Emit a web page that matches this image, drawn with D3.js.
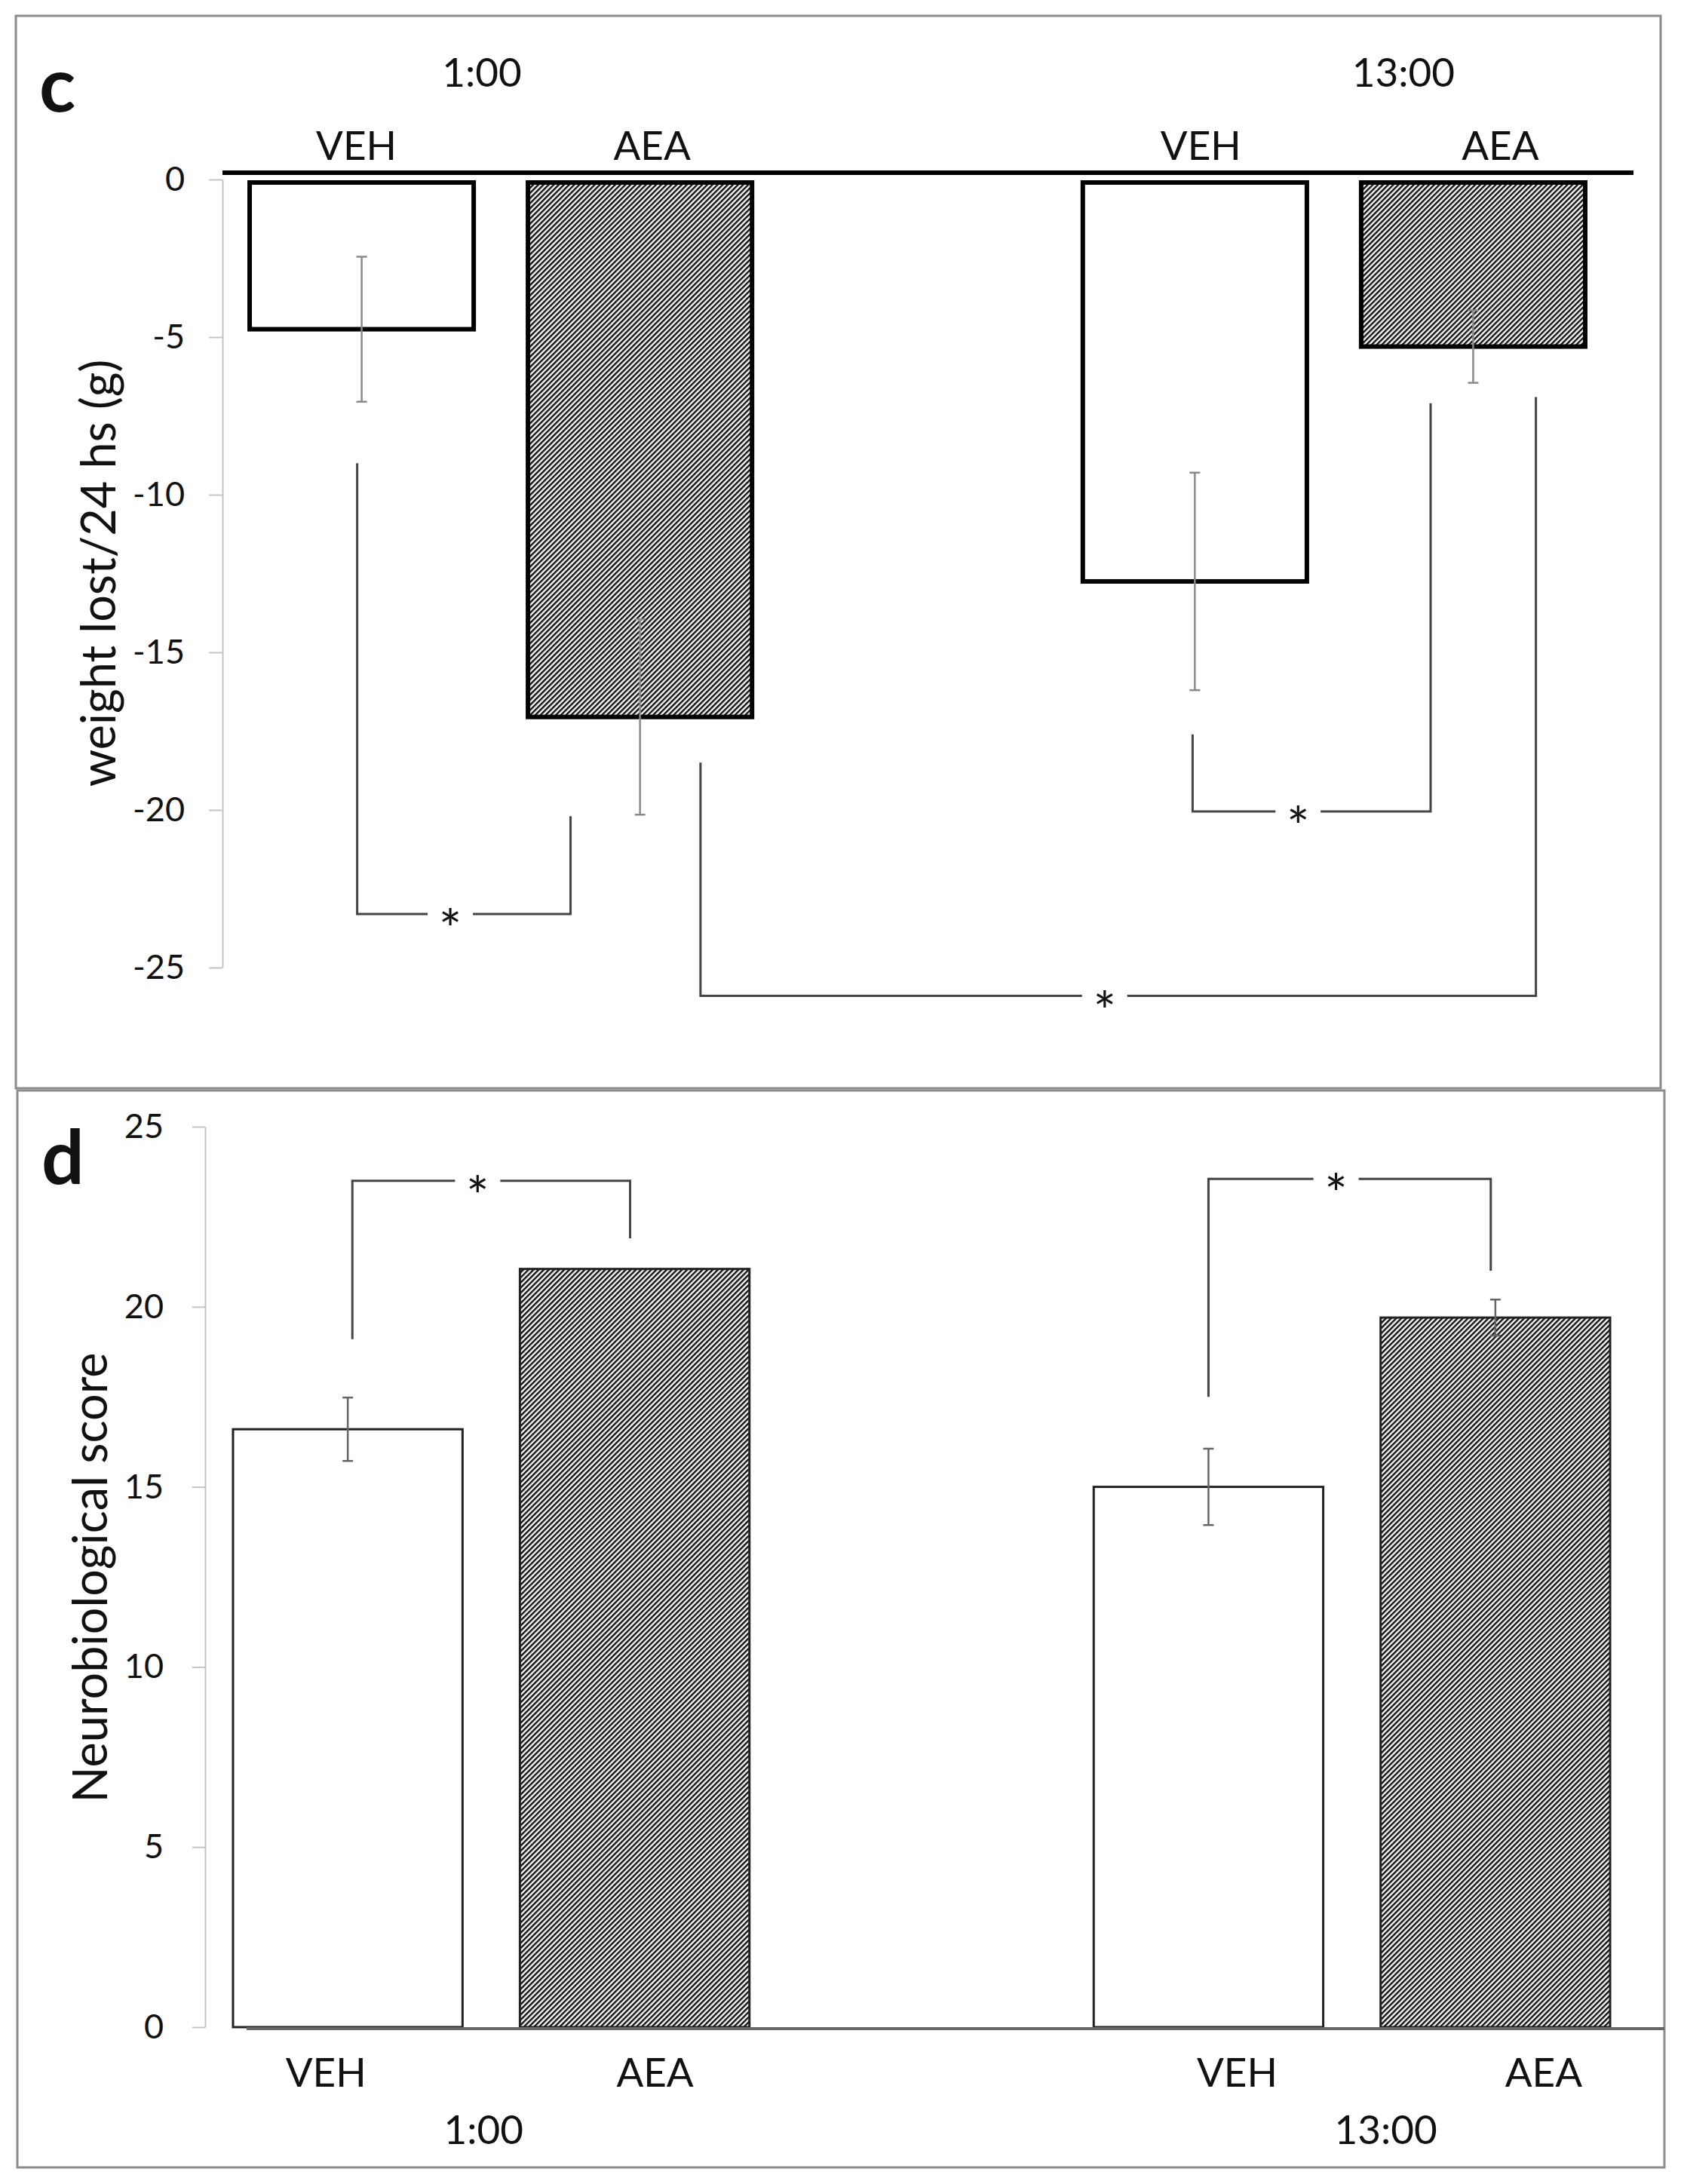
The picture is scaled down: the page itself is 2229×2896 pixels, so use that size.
<!DOCTYPE html>
<html>
<head>
<meta charset="utf-8">
<script src="https://cdn.jsdelivr.net/npm/d3@7"></script>
<style>
  body { margin: 0; background: #fff; }
  text { font-family: Lato, "Open Sans", sans-serif; fill: #111; }
</style>
</head>
<body>
<script>
// chart values
const groups = ['1:00', '13:00'];
const treatments = ['VEH', 'AEA'];

// weight lost / 24 hs (g), order: VEH 1:00, AEA 1:00, VEH 13:00, AEA 13:00
const weightMean = [-4.75, -17.05, -12.75, -5.3];
const weightErr = [2.3, 3.1, 3.45, 1.15];
const weightTicks = [0, -5, -10, -15, -20, -25];

// neurobiological score
const scoreMean = [16.6, 21.05, 15.0, 19.7];
const scoreErr = [0.88, 0, 1.06, 0.5];
const scoreTicks = [0, 5, 10, 15, 20, 25];

// significance brackets: bar index, spot across the bar (0..1), end value, bracket level
const weightSig = [
  { a: 0, fa: 0.48, ya: -9.0, b: 1, fb: 0.19, yb: -20.2, level: -23.3 },
  { a: 2, fa: 0.49, ya: -17.6, b: 3, fb: 0.31, yb: -7.1, level: -20.05 },
  { a: 1, fa: 0.77, ya: -18.5, b: 3, fb: 0.78, yb: -6.9, level: -25.9 }
];
const scoreSig = [
  { a: 0, fa: 0.52, ya: 19.1, b: 1, fb: 0.48, yb: 21.9, level: 23.5 },
  { a: 2, fa: 0.5, ya: 17.5, b: 3, fb: 0.48, yb: 21.0, level: 23.55 }
];

const W = 2229;
const H = 2896;

const svg = d3.select('body').append('svg').attr('width', W).attr('height', H);

// hatch for AEA bars
const defs = svg.append('defs');
defs
  .append('pattern')
  .attr('id', 'hatch')
  .attr('patternUnits', 'userSpaceOnUse')
  .attr('width', 4.8)
  .attr('height', 4.8)
  .attr('patternTransform', 'rotate(45)')
  .call((p) => {
    p.append('rect').attr('width', 4.8).attr('height', 4.8).attr('fill', '#fff');
    p.append('line')
      .attr('x1', 1.2).attr('x2', 1.2)
      .attr('y1', 0).attr('y2', 4.8)
      .attr('stroke', '#111')
      .attr('stroke-width', 2.5);
  });

const bars = [];
groups.forEach((g) => treatments.forEach((t) => bars.push({ group: g, treat: t })));

function drawPanel(o) {
  const gp = svg.append('g');

  gp.append('rect')
    .attr('x', o.box[0]).attr('y', o.box[1])
    .attr('width', o.box[2] - o.box[0]).attr('height', o.box[3] - o.box[1])
    .attr('fill', 'none').attr('stroke', '#8c8c8c').attr('stroke-width', 3);

  const x0 = d3.scaleBand().domain(groups).range(o.xRange)
    .paddingInner(o.padGroup).paddingOuter(o.padOuter);
  const x1 = d3.scaleBand().domain(treatments).range([0, x0.bandwidth()])
    .paddingInner(o.padTreat);
  const y = d3.scaleLinear().domain(o.yDomain).range(o.yRange);
  const bx = (i) => x0(bars[i].group) + x1(bars[i].treat);
  const bw = x1.bandwidth();

  // y axis
  const ax = gp.append('g')
    .attr('transform', `translate(${o.xRange[0]},0)`)
    .call(d3.axisLeft(y).tickValues(o.ticks).tickSize(o.tickSize)
      .tickSizeOuter(0).tickPadding(o.tickPad).tickFormat(d3.format('d')));
  ax.select('.domain').attr('stroke', '#c4c4c4').attr('stroke-width', 2);
  ax.selectAll('.tick line').attr('stroke', '#c4c4c4').attr('stroke-width', 2);
  ax.selectAll('.tick text')
    .attr('font-size', 45)
    .attr('font-family', 'Lato, sans-serif')
    .attr('fill', '#111')
    .text((d) => (d < 0 ? '-' + Math.abs(d) : d));

  // bars
  gp.selectAll('rect.bar')
    .data(o.values)
    .enter()
    .append('rect')
    .attr('class', 'bar')
    .attr('x', (d, i) => bx(i))
    .attr('width', bw)
    .attr('y', (d) => Math.min(y(0), y(d)) + o.barInset)
    .attr('height', (d) => Math.abs(y(d) - y(0)) - o.barInset)
    .attr('fill', (d, i) => (bars[i].treat === 'AEA' ? 'url(#hatch)' : '#fff'))
    .attr('stroke', o.barStroke)
    .attr('stroke-width', o.barWidth);

  // baseline axis
  gp.append('line')
    .attr('x1', o.baseX[0]).attr('x2', o.baseX[1])
    .attr('y1', y(0) + o.baseDy).attr('y2', y(0) + o.baseDy)
    .attr('stroke', o.baseColor).attr('stroke-width', o.baseWidth);

  // error bars
  const eb = gp.selectAll('g.err')
    .data(o.values.map((v, i) => ({ v, e: o.errs[i], i })).filter((d) => d.e > 0))
    .enter()
    .append('g')
    .attr('stroke', o.errColor)
    .attr('stroke-width', 2.5);
  eb.append('line')
    .attr('x1', (d) => bx(d.i) + bw / 2).attr('x2', (d) => bx(d.i) + bw / 2)
    .attr('y1', (d) => y(d.v - d.e)).attr('y2', (d) => y(d.v + d.e));
  [-1, 1].forEach((s) => {
    eb.append('line')
      .attr('x1', (d) => bx(d.i) + bw / 2 - 7).attr('x2', (d) => bx(d.i) + bw / 2 + 7)
      .attr('y1', (d) => y(d.v + s * d.e)).attr('y2', (d) => y(d.v + s * d.e));
  });

  // significance brackets
  o.sig.forEach((s) => {
    const xa = bx(s.a) + s.fa * bw;
    const xb = bx(s.b) + s.fb * bw;
    const yl = y(s.level);
    const xm = (xa + xb) / 2 - 12;
    const g = gp.append('g').attr('stroke', '#444').attr('stroke-width', 3).attr('fill', 'none');
    g.append('path').attr('d', `M${xa},${y(s.ya)}V${yl}H${xm - 36}`);
    g.append('path').attr('d', `M${xm + 24},${yl}H${xb}V${y(s.yb)}`);
    gp.append('text')
      .attr('x', xm - 6).attr('y', yl + 46)
      .attr('text-anchor', 'middle')
      .attr('font-size', 72)
      .text('*');
  });

  // category and group labels (hand-placed text boxes in the original)
  gp.selectAll('text.cat')
    .data(bars)
    .enter()
    .append('text')
    .attr('x', (d, i) => bx(i) + bw / 2 + o.catShift[i])
    .attr('y', o.catY)
    .attr('text-anchor', 'middle')
    .attr('font-size', 53)
    .text((d) => d.treat);
  gp.selectAll('text.grp')
    .data(groups)
    .enter()
    .append('text')
    .attr('x', (d, i) => x0(d) + x0.bandwidth() / 2 + o.grpShift[i])
    .attr('y', o.grpY)
    .attr('text-anchor', 'middle')
    .attr('font-size', 53)
    .text((d) => d);

  // axis title
  gp.append('text')
    .attr('transform', `translate(${o.titleX},${o.titleY}) rotate(-90)`)
    .attr('text-anchor', 'middle')
    .attr('font-size', 63)
    .text(o.title);

  // panel letter
  gp.append('text')
    .attr('x', o.letterX).attr('y', o.letterY)
    .attr('font-size', 100)
    .attr('font-weight', 'bold')
    .text(o.letter);
}

drawPanel({
  box: [21, 21, 2202, 1443],
  letter: 'c', letterX: 52, letterY: 148,
  xRange: [295, 2138], padGroup: 0.397, padOuter: 0.0326, padTreat: 0.195,
  yDomain: [0, -25], yRange: [238, 1283],
  ticks: weightTicks, tickSize: 18, tickPad: 32,
  values: weightMean, errs: weightErr, sig: weightSig,
  barStroke: '#000', barWidth: 6, barInset: 4,
  baseX: [295, 2166], baseDy: -9, baseColor: '#000', baseWidth: 6,
  errColor: '#8a8a8a',
  catY: 212, catShift: [-7, 16, 8, 36],
  grpY: 115, grpShift: [-25, 92],
  title: 'weight lost/24 hs (g)', titleX: 153, titleY: 760
});

drawPanel({
  box: [23, 1446, 2207, 2874],
  letter: 'd', letterX: 55, letterY: 1570,
  xRange: [272, 2172], padGroup: 0.4, padOuter: 0.0324, padTreat: 0.2,
  yDomain: [0, 25], yRange: [2688, 1494],
  ticks: scoreTicks, tickSize: 17, tickPad: 38,
  values: scoreMean, errs: scoreErr, sig: scoreSig,
  barStroke: '#222', barWidth: 3, barInset: 0,
  baseX: [327, 2207], baseDy: 2, baseColor: '#666', baseWidth: 4,
  errColor: '#666',
  catY: 2767, catShift: [-29, 27, 38, 64],
  grpY: 2843, grpShift: [-10, 45],
  title: 'Neurobiological score', titleX: 142, titleY: 2092
});
</script>
</body>
</html>
